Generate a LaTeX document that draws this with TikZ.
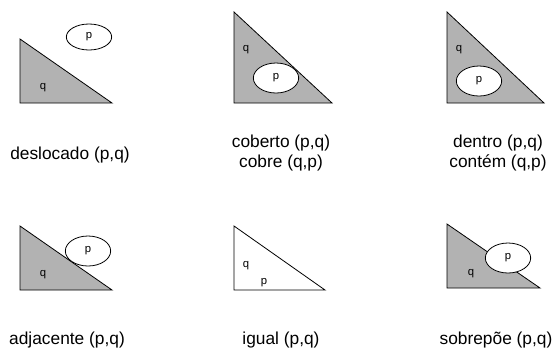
\documentclass[tikz,border=0pt]{standalone}
\usepackage{fontspec}
\setmainfont{Liberation Sans}
\usetikzlibrary{shapes.geometric}

\begin{document}
\begin{tikzpicture}[
      x=0.75pt,y=-0.75pt,
      region/.style={draw,line width=0.6pt},
      shaded/.style={region,fill=gray!60},
      blob/.style={ellipse,draw,fill=white,line width=0.6pt,inner sep=0pt,minimum width=34pt,minimum height=22.5pt,font=\fontsize{8.5}{10}\selectfont},
      tag/.style={inner sep=0pt,font=\fontsize{8.5}{10}\selectfont},
      caption/.style={align=center,inner sep=0pt,font=\fontsize{13}{15}\selectfont}
    ]
      \useasboundingbox (0,0) rectangle (552,350);
      \draw[shaded] (20,39) -- (20,103) -- (112,103) -- cycle;
      \node[tag] (q1) at (43,88) {q};
      \node[blob,minimum height=19.5pt] (p1) at (89,37) {p};
      \node[caption] (l1) at (70,155) {deslocado (p,q)};

      \draw[shaded] (234,12) -- (234,103) -- (332,103) -- cycle;
      \node[tag] (q2) at (246,50) {q};
      \node[blob] (p2) at (276,78) {p};
      \node[caption] (l2) at (281,153) {coberto (p,q)\\cobre (q,p)};

      \draw[shaded] (447,12) -- (447,103) -- (544,103) -- cycle;
      \node[tag] (q3) at (459,50) {q};
      \node[blob] (p3) at (479,81) {p};
      \node[caption] (l3) at (498,153) {dentro (p,q)\\contém (q,p)};

      \draw[shaded] (20,226) -- (20,290) -- (112,290) -- cycle;
      \node[tag] (q4) at (43,275) {q};
      \node[blob] (p4) at (88,251) {p};
      \node[caption] (l4) at (67,340) {adjacente (p,q)};

      \draw[region] (234,226) -- (234,290) -- (325,290) -- cycle;
      \node[tag] (q5) at (246,266) {q};
      \node[tag] (p5) at (264,283) {p};
      \node[caption] (l5) at (281,340) {igual (p,q)};

      \draw[shaded] (447,224) -- (447,288) -- (540,288) -- cycle;
      \node[tag] (q6) at (471,274) {q};
      \node[blob] (p6) at (508,258) {p};
      \node[caption] (l6) at (496,340) {sobrepõe (p,q)};
    \end{tikzpicture}
\end{document}
